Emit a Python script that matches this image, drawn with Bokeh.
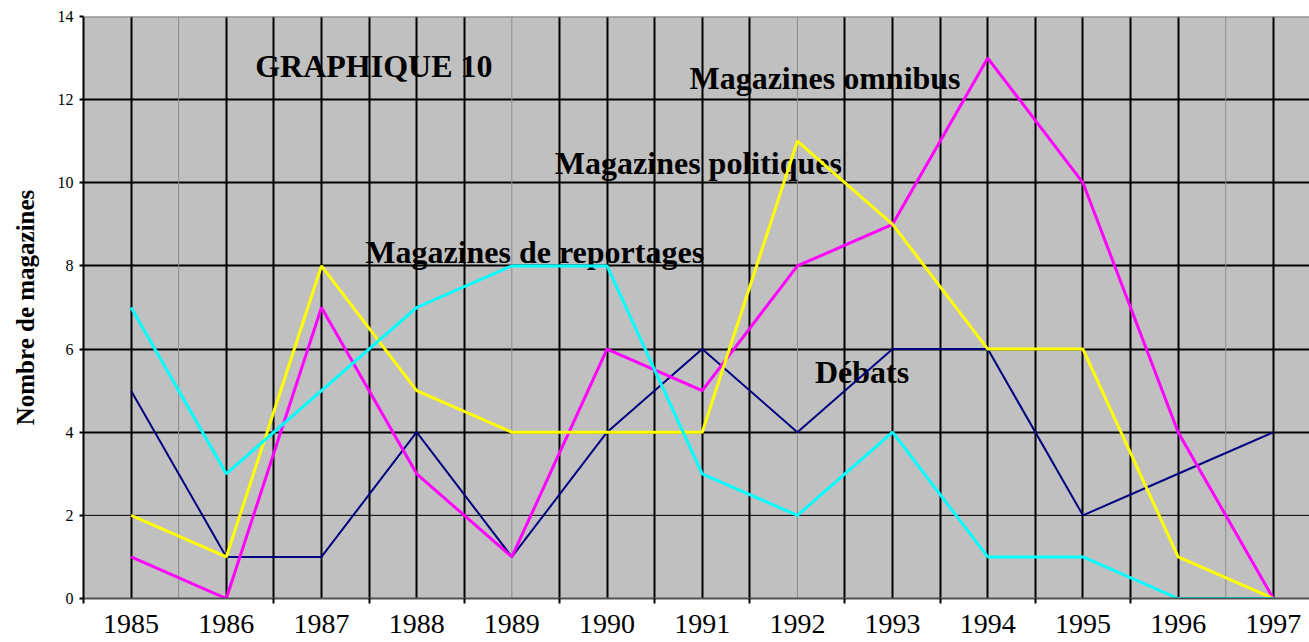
import math
from bokeh.plotting import figure
from bokeh.models import FixedTicker, Span, Range1d, ColumnDataSource
from bokeh.core.properties import value
from bokeh.embed import file_html
from bokeh.resources import INLINE

# ---- data ----
years = list(range(1985, 1998))
debats = [5, 1, 1, 4, 1, 4, 6, 4, 6, 6, 2, 3, 4]
reportages = [7, 3, 5, 7, 8, 8, 3, 2, 4, 1, 1, 0, 0]
politiques = [2, 1, 8, 5, 4, 4, 4, 11, 9, 6, 6, 1, 0]
omnibus = [1, 0, 7, 3, 1, 6, 5, 8, 9, 13, 10, 4, 0]

y_ticks = [0, 2, 4, 6, 8, 10, 12, 14]
title_text = "GRAPHIQUE 10"
y_label_text = "Nombre de magazines"

series_labels = ["Magazines omnibus", "Magazines politiques",
                 "Magazines de reportages", "Débats"]

# ---- layout / style ----
X0, X1 = 1984.5, 1997.38
boundaries = [y - 0.5 for y in years]            # category boundaries
gray_v = [1985.5, 1989, 1992, 1996.5]            # faint grid lines
all_v = sorted(set(years + boundaries))
black_v = [v for v in all_v if v not in gray_v]

p = figure(width=1309, height=642, output_backend="svg", toolbar_location=None,
           x_range=Range1d(X0, X1), y_range=Range1d(0, 14),
           min_border_left=83, min_border_right=0, min_border_top=16,
           min_border_bottom=44,
           background_fill_color="#C0C0C0", border_fill_color="white",
           outline_line_color=None)

# x axis
p.xaxis.ticker = FixedTicker(ticks=years,
                             minor_ticks=[b for b in boundaries if b not in gray_v])
p.xaxis.major_tick_line_color = None
p.xaxis.major_tick_out = 0
p.xaxis.major_tick_in = 0
p.xaxis.minor_tick_out = 5
p.xaxis.minor_tick_in = 0
p.xaxis.minor_tick_line_color = "black"
p.xaxis.minor_tick_line_width = 2
p.xaxis.axis_line_color = "#505050"
p.xaxis.axis_line_width = 2
p.xaxis.major_label_text_font = "Liberation Serif"
p.xaxis.major_label_text_font_size = "28px"
p.xaxis.major_label_text_color = "black"
p.xaxis.major_label_standoff = 11

# y axis
p.yaxis.ticker = FixedTicker(ticks=y_ticks, minor_ticks=[])
p.yaxis.major_tick_out = 4
p.yaxis.major_tick_in = 0
p.yaxis.major_tick_line_width = 2
p.yaxis.major_tick_line_color = "black"
p.yaxis.axis_line_color = "black"
p.yaxis.axis_line_width = 2
p.yaxis.major_label_text_font = "Liberation Serif"
p.yaxis.major_label_text_font_size = "16px"
p.yaxis.major_label_text_color = "black"
p.yaxis.major_label_standoff = 6
p.yaxis.axis_label = y_label_text
p.yaxis.axis_label_text_font = "Liberation Serif"
p.yaxis.axis_label_text_font_style = "bold"
p.yaxis.axis_label_text_font_size = "25px"
p.yaxis.axis_label_text_color = "black"
p.yaxis.axis_label_standoff = 16

# grids
p.xgrid.ticker = FixedTicker(ticks=black_v)
p.xgrid.grid_line_color = "black"
p.xgrid.grid_line_width = 2
p.ygrid.ticker = FixedTicker(ticks=[t for t in y_ticks if 2 < t < 14])
p.ygrid.grid_line_color = "black"
p.ygrid.grid_line_width = 2
for gv in gray_v:
    p.add_layout(Span(location=gv, dimension="height", line_color="#8c8c8c",
                      line_width=1, level="underlay"))
p.add_layout(Span(location=y_ticks[1], dimension="width", line_color="black",
                  line_width=1, level="underlay"))
p.add_layout(Span(location=y_ticks[-1], dimension="width", line_color="#808080",
                  line_width=2))

# annotation texts (drawn below the series lines)
ann_src = ColumnDataSource(dict(
    x=[1987.55, 1992.29, 1990.96, 1989.24, 1992.68],
    y=[12.81, 12.53, 10.47, 8.33, 5.45],
    t=[title_text] + series_labels,
))
p.text(x="x", y="y", text="t", source=ann_src,
       text_font=value("Liberation Serif"), text_font_style="bold",
       text_font_size="32px", text_color="black",
       text_align="center", text_baseline="alphabetic")

# series (Excel order: navy, magenta, yellow, cyan)
p.line(years, debats, line_color="#000080", line_width=2)
p.line(years, omnibus, line_color="#FF00FF", line_width=3)
p.line(years, politiques, line_color="#FFFF00", line_width=3)
p.line(years, reportages, line_color="#00FFFF", line_width=3)

open("out.html", "w").write(file_html(p, INLINE))
